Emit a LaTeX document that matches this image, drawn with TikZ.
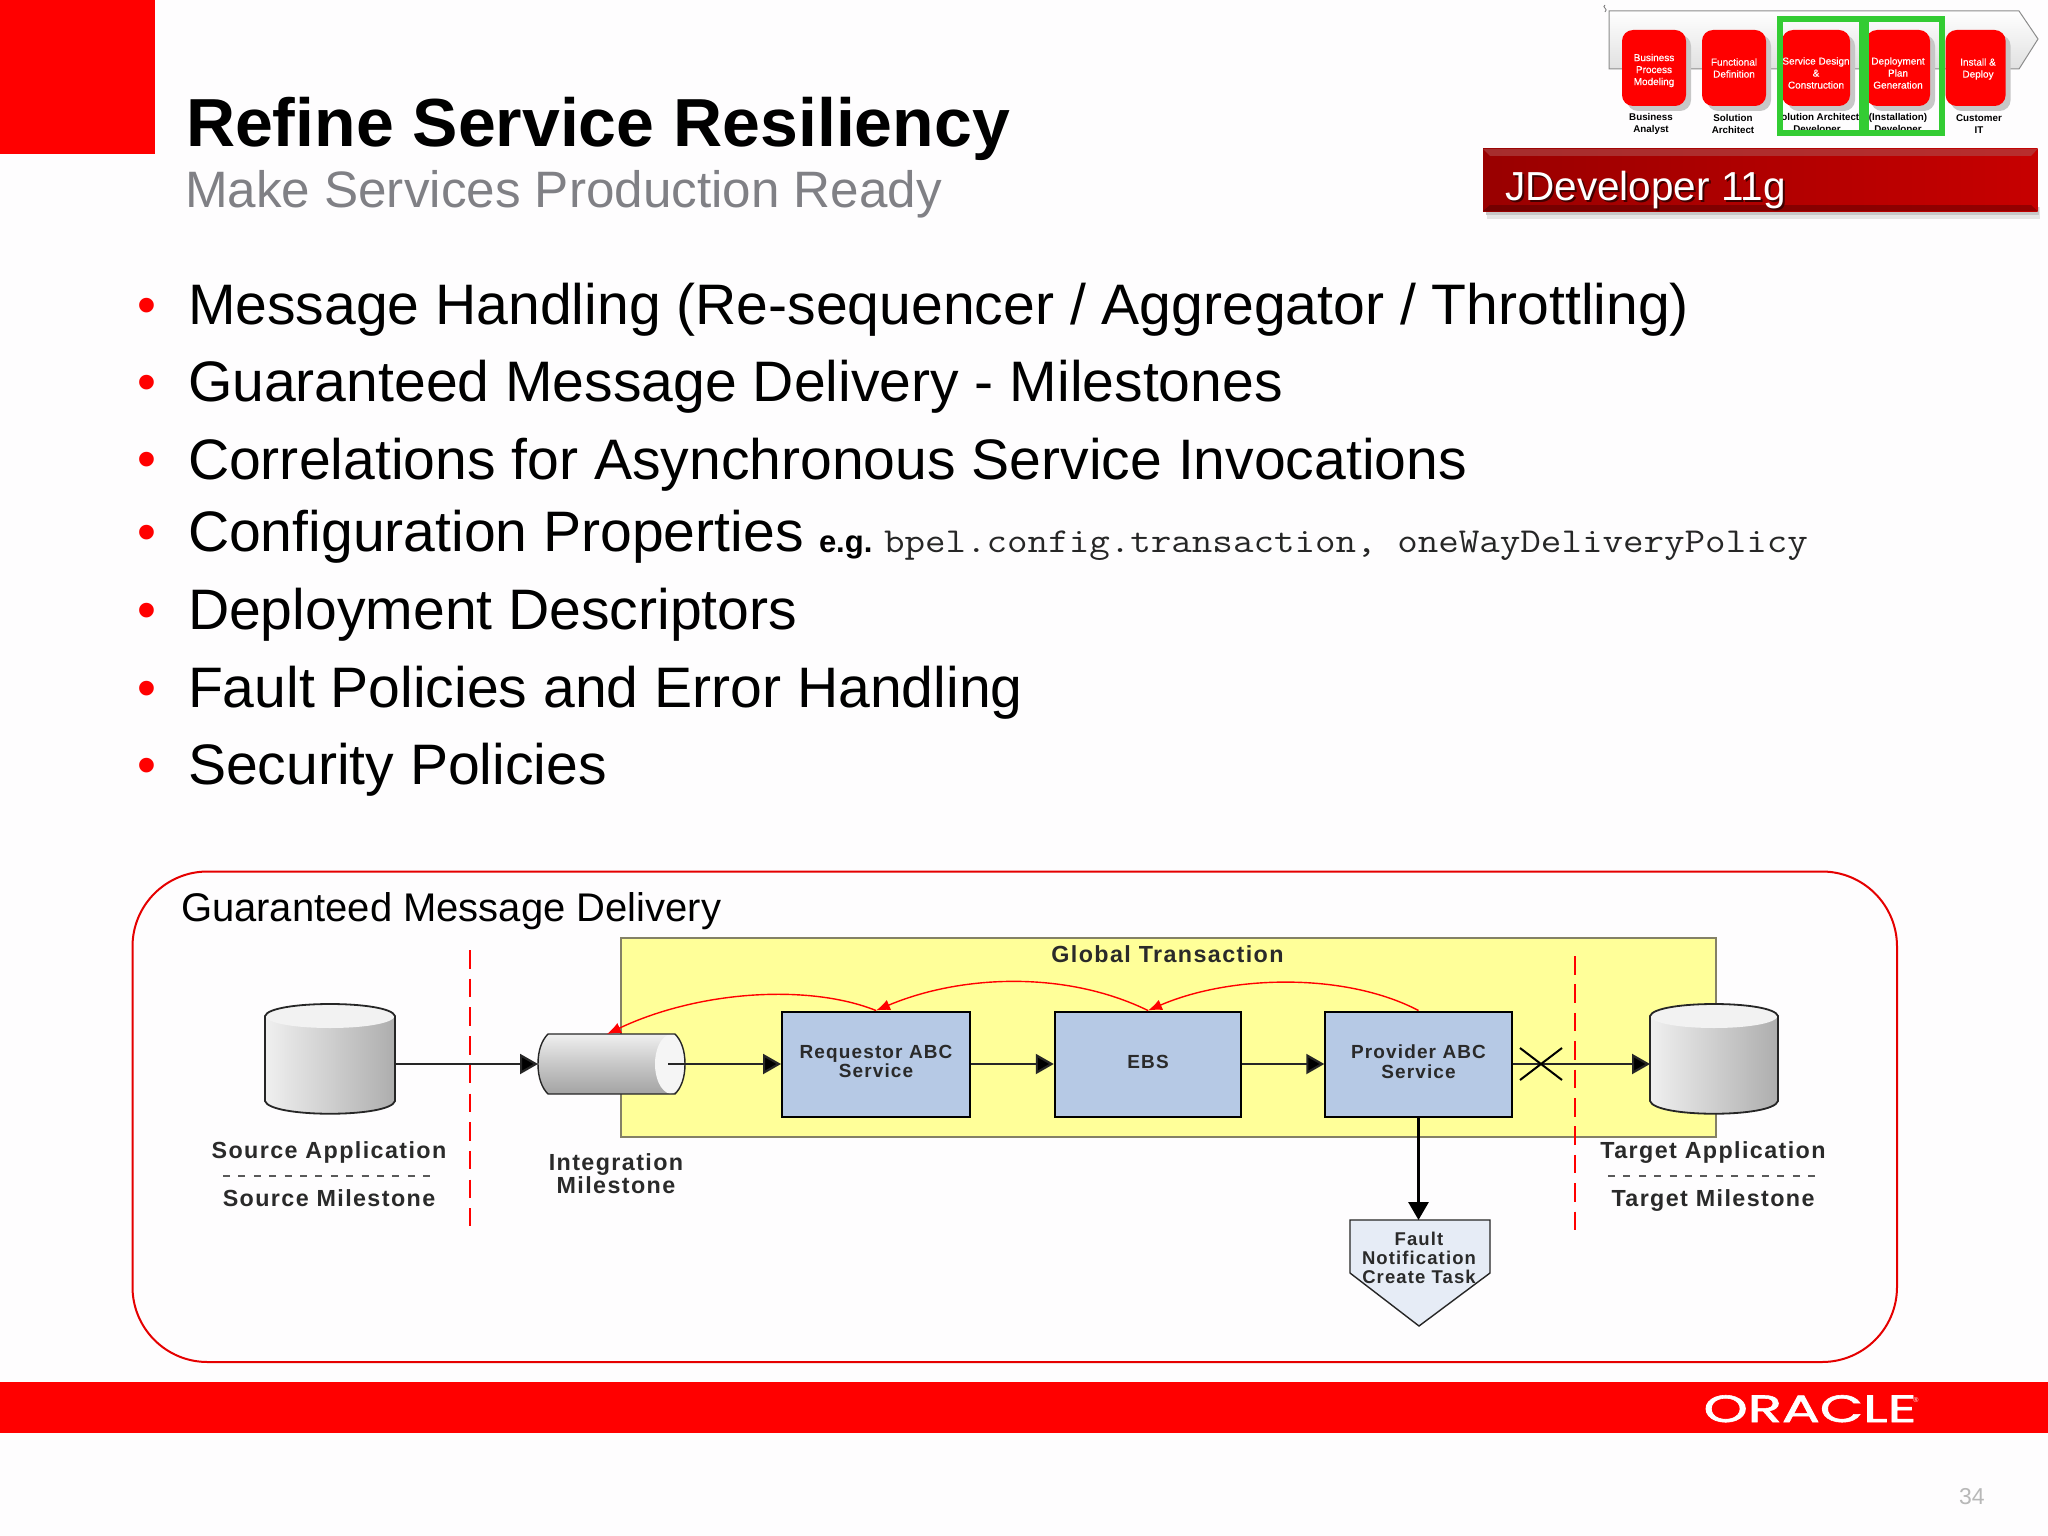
\documentclass[tikz,border=0pt]{standalone}
\usepackage{fontspec}
\setmainfont{Liberation Sans}
\newfontfamily\diagfont[LetterSpace=6]{Liberation Sans}
\newfontfamily\stagefont[FakeBold=0.5]{Liberation Sans}
\newfontfamily\logofont[FakeBold=1.5]{Poppins}
\usetikzlibrary{arrows.meta}
\definecolor{orared}{HTML}{FF0000}
\definecolor{pagebg}{HTML}{FEFDFE}
\definecolor{bandgreen}{HTML}{33CC33}
\definecolor{boxblue}{HTML}{B6C9E5}
\definecolor{txgray}{HTML}{808085}
\definecolor{diagtext}{HTML}{2A2A2A}
\definecolor{txyellow}{HTML}{FFFF99}
\definecolor{faultfill}{HTML}{E6ECF6}
\tikzset{
  x=1pt,y=-1pt,
  txt/.style={inner sep=0pt,outer sep=0pt,anchor=base west},
  bullettext/.style={txt,font=\fontsize{57.1}{60}\selectfont,text=black},
  bulletdot/.style={inner sep=0pt,outer sep=0pt,anchor=base,font=\fontsize{54}{54}\selectfont,text=orared},
  stage/.style={draw=none,fill=orared,rounded corners=11pt,inner sep=0pt,minimum height=76pt},
  stagetext/.style={inner sep=0pt,align=center,text=white,font=\stagefont\fontsize{10}{12}\selectfont},
  role/.style={inner sep=0pt,align=center,text=black,font=\fontsize{9.8}{12}\selectfont\bfseries},
  greenbox/.style={draw=bandgreen,line width=6pt},
  svc/.style={draw=black,line width=2pt,fill=boxblue,minimum height=105pt,inner sep=0pt},
  svctext/.style={inner sep=0pt,align=center,text=diagtext,font=\diagfont\fontsize{19}{19.5}\selectfont\bfseries},
  dlabel/.style={inner sep=0pt,anchor=base,text=diagtext,align=center,font=\diagfont\fontsize{23.3}{25}\selectfont\bfseries},
  flow/.style={draw=black!85,line width=2.2pt,-{Triangle[length=18pt,width=20pt,fill=black]}},
  back/.style={draw=orared,line width=1.4pt,-{Latex[length=14pt,width=11pt,fill=orared]}},
  anchorbox/.style={inner sep=0pt,outer sep=0pt,draw=none,fill=none},
}
\begin{document}
\begin{tikzpicture}
\useasboundingbox (0,0) rectangle (2048,1536);
\fill[pagebg] (0,0) rectangle (2048,1536);
% header
\fill[orared] (0,0) rectangle (155,154);
\node[txt,font=\fontsize{68}{70}\selectfont\bfseries] (title) at (186,146.5) {Refine Service Resiliency};
\node[txt,font=\fontsize{51.2}{54}\selectfont,text=txgray] (subtitle) at (185,207) {Make Services Production Ready};
% bullets
\foreach \yy/\nm in {323/a,400/b,477/c,550/d,628/e,706/f,783/g}{\node[bulletdot] (dot\nm) at (147,\yy) {•};}
\node[bullettext] (b1) at (188,324.5) {Message Handling (Re-sequencer / Aggregator / Throttling)};
\node[bullettext] (b2) at (188,401.5) {Guaranteed Message Delivery - Milestones};
\node[bullettext] (b3) at (188,479) {Correlations for Asynchronous Service Invocations};
\node[bullettext] (b4) at (188,551) {Configuration Properties};
\node[txt,font=\fontsize{31}{34}\selectfont\bfseries] (eg) at (819,552) {e.g.};
\node[txt,xscale=1.139,font=\fontsize{35}{36}\ttfamily,text=black!85] (code) at (884,552) {bpel.config.transaction, oneWayDeliveryPolicy};
\node[bullettext] (b5) at (188,629) {Deployment Descriptors};
\node[bullettext] (b6) at (188,707) {Fault Policies and Error Handling};
\node[bullettext] (b7) at (188,784.5) {Security Policies};
% process strip
\draw[black!55,line width=.8pt] (1605,5) .. controls (1601,7) and (1609,9) .. (1605,12);
\draw[draw=black!45,line width=1pt,top color=white,bottom color=black!12] (1609,11) -- (2019,11) -- (2038,39) -- (2019,69) -- (1609,69) -- cycle;
\foreach \xa/\xb in {1622/1686,1702/1766,1782.5/1850,1866/1930,1945.6/2005.6}{
  \fill[black!22,rounded corners=11pt] (\xa+5,35) rectangle (\xb+5,111);}
\node[stage,minimum width=64pt] (s1) at (1654,68) {};
\node[stage,minimum width=64pt] (s2) at (1734,68) {};
\node[stage,minimum width=68pt] (s3) at (1816,68) {};
\node[stage,minimum width=64pt] (s4) at (1898,68) {};
\node[stage,minimum width=60pt] (s5) at (1975.6,68) {};
\node[stagetext] (s1t) at (1654,70.5) {Business\\Process\\Modeling};
\node[stagetext] (s2t) at (1734,68) {Functional\\Definition};
\node[stagetext] (s3t) at (1816,73) {Service Design\\\&\\Construction};
\node[stagetext] (s4t) at (1898,73) {Deployment\\Plan\\Generation};
\node[stagetext] (s5t) at (1978,69) {Install \&\\Deploy};
\node[role] (r1) at (1651,124) {Business\\Analyst};
\node[role] (r2) at (1733,124) {Solution\\Architect};
\begin{scope}
\clip (1780,100) rectangle (1866,136);
\node[role] (r3) at (1817,124) {Solution Architect\\Developer};
\end{scope}
\node[role] (r4) at (1898,124) {(Installation)\\Developer};
\node[role] (r5) at (1979,124) {Customer\\IT};
\draw[greenbox] (1780,19) rectangle (1862,133);
\draw[greenbox] (1866,19) rectangle (1942,133);
% JDeveloper banner
\fill[black!10] (1487,207) rectangle (2040,219);
\fill[black!22] (1486,207) rectangle (2039,215);
\shade[left color=red!60!black,right color=red!78!black] (1483,149) rectangle (2037.5,211);
\fill[red!55!black!70!white,opacity=.6] (1483,149) -- (2037.5,149) -- (2031,156) -- (1490,156) -- cycle;
\fill[black,opacity=.25] (1483,211) -- (2037.5,211) -- (2031,205) -- (1490,205) -- cycle;
\node[txt,font=\fontsize{40.5}{42}\selectfont,text=black!75!red] (jdevs) at (1507,202) {JDeveloper 11g};
\node[txt,font=\fontsize{40.5}{42}\selectfont,text=white] (jdev) at (1505,200) {JDeveloper 11g};
% panel
\draw[draw=orared!90!black,line width=2pt,rounded corners=75pt] (132.5,871.5) rectangle (1897,1362);
\node[txt,font=\fontsize{40}{43}\selectfont] (gmd) at (181,921.5) {Guaranteed Message Delivery};
% yellow transaction area
\fill[txyellow] (621,938) rectangle (1716,1137);
\draw[draw=black!60!yellow!55!gray,line width=2.4pt] (621,938) rectangle (1716,1137);
\node[dlabel] (global) at (1167.5,962.5) {Global Transaction};
% cut lines
\draw[draw=orared,line width=2.4pt,dash pattern=on 18.5pt off 10.2pt] (470,950) -- (470,1226);
\draw[draw=orared,line width=2.4pt,dash pattern=on 18.5pt off 9.9pt] (1575,956) -- (1575,1230);
% left DB
\shade[left color=black!6,right color=black!32] (265,1016) -- (265,1101) .. controls (270,1118) and (390,1118) .. (395,1101) -- (395,1016) .. controls (390,1000) and (270,1000) .. (265,1016) -- cycle;
\fill[black!5] (265,1016) .. controls (270,1000) and (390,1000) .. (395,1016) .. controls (390,1032) and (270,1032) .. (265,1016) -- cycle;
\draw[line width=1.8pt,black!85] (265,1016) -- (265,1101) .. controls (270,1118) and (390,1118) .. (395,1101) -- (395,1016) .. controls (390,1000) and (270,1000) .. (265,1016) -- cycle;
\node[anchorbox,minimum width=130pt,minimum height=109pt] (srcdb) at (330,1064) {};
% right DB
\shade[left color=black!6,right color=black!32] (1650,1016) -- (1650,1101) .. controls (1655,1118) and (1773,1118) .. (1778,1101) -- (1778,1016) .. controls (1773,1000) and (1655,1000) .. (1650,1016) -- cycle;
\fill[black!5] (1650,1016) .. controls (1655,1000) and (1773,1000) .. (1778,1016) .. controls (1773,1032) and (1655,1032) .. (1650,1016) -- cycle;
\draw[line width=1.8pt,black!85] (1650,1016) -- (1650,1101) .. controls (1655,1118) and (1773,1118) .. (1778,1101) -- (1778,1016) .. controls (1773,1000) and (1655,1000) .. (1650,1016) -- cycle;
\node[anchorbox,minimum width=128pt,minimum height=109pt] (tgtdb) at (1714,1064) {};
% integration milestone cylinder
\shade[top color=black!6,bottom color=black!36,middle color=black!22] (548,1034) -- (675,1034) .. controls (681,1040) and (685,1050) .. (685,1064) .. controls (685,1078) and (681,1088) .. (675,1094) -- (548,1094) .. controls (542,1088) and (538,1078) .. (538,1064) .. controls (538,1050) and (542,1040) .. (548,1034) -- cycle;
\fill[black!4] (670,1034) .. controls (650,1040) and (650,1088) .. (670,1094) .. controls (678,1094) and (685,1080) .. (685,1064) .. controls (685,1048) and (678,1034) .. (670,1034) -- cycle;
\draw[line width=1.4pt,black!85] (548,1034) -- (675,1034) .. controls (681,1040) and (685,1050) .. (685,1064) .. controls (685,1078) and (681,1088) .. (675,1094) -- (548,1094) .. controls (542,1088) and (538,1078) .. (538,1064) .. controls (538,1050) and (542,1040) .. (548,1034) -- cycle;
\node[anchorbox,minimum width=147pt,minimum height=60pt] (intq) at (611.5,1064) {};
\coordinate (intqout) at (668,1064);
\coordinate (intqtop) at (607,1034);
% service boxes
\node[svc,minimum width=188pt] (req) at (876,1064) {};
\node[svc,minimum width=186.5pt] (ebs) at (1148,1064) {};
\node[svc,minimum width=186.5pt] (prov) at (1418.5,1064) {};
\node[svctext] (reqt) at (876,1061.5) {Requestor ABC\\Service};
\node[svctext] (ebst) at (1148,1061.5) {EBS};
\node[svctext] (provt) at (1418.5,1061.5) {Provider ABC\\Service};
% fault
\draw[line width=1.4pt,black!85,fill=faultfill] (1350,1220) -- (1490,1220) -- (1490,1273) -- (1419,1326) -- (1350,1273) -- cycle;
\node[anchorbox,minimum width=140pt,minimum height=106pt] (fault) at (1420,1273) {};
\node[dlabel,font=\diagfont\fontsize{18.5}{19}\selectfont\bfseries] (f1) at (1419,1245) {Fault};
\node[dlabel,font=\diagfont\fontsize{18.5}{19}\selectfont\bfseries] (f2) at (1419,1264) {Notification};
\node[dlabel,font=\diagfont\fontsize{18.5}{19}\selectfont\bfseries] (f3) at (1419,1283) {Create Task};
% connectors
\draw[flow] (srcdb.east) -- (intq.west);
\draw[flow] (intqout) -- (req.west);
\draw[flow] (req.east) -- (ebs.west);
\draw[flow] (ebs.east) -- (prov.west);
\draw[flow] (prov.east) -- (tgtdb.west);
\draw[draw=black,line width=3pt,-{Triangle[length=18pt,width=20pt,fill=black]}] (prov.south) -- (prov.south |- fault.north);
\draw[back] (prov.north) .. controls (1345,972) and (1230,975) .. (ebs.north);
\draw[back] (ebs.north) .. controls (1065,970) and (960,975) .. (req.north);
\draw[back] (req.north) .. controls (810,984) and (700,990) .. (intqtop);
% failure cross
\coordinate (xa) at (1520,1048);\coordinate (xb) at (1562,1080);\coordinate (xc) at (1520,1080);\coordinate (xd) at (1562,1048);
\draw[line width=2pt,black] (xa) -- (xb) (xc) -- (xd);
% labels
\node[dlabel] (sa) at (329,1158.5) {Source Application};
\coordinate (sda) at (223,1176);\coordinate (sdb) at (436,1176);
\draw[line width=1.4pt,black!65,dash pattern=on 7pt off 8.4pt] (sda) -- (sdb);
\node[dlabel] (sm) at (329,1206) {Source Milestone};
\node[dlabel] (im1) at (616,1170) {Integration};
\node[dlabel] (im2) at (616,1193) {Milestone};
\node[dlabel] (ta) at (1713,1158.5) {Target Application};
\coordinate (tda) at (1608,1176);\coordinate (tdb) at (1820,1176);
\draw[line width=1.4pt,black!65,dash pattern=on 7pt off 8.4pt] (tda) -- (tdb);
\node[dlabel] (tm) at (1713,1206) {Target Milestone};
% footer
\fill[orared] (0,1382) rectangle (2048,1433);
\node[inner sep=0pt,anchor=base,text=white,xscale=1.48,font=\logofont\fontsize{38}{38}\selectfont] (oracle) at (1810,1422) {ORACLE};
\node[inner sep=0pt,anchor=base,text=white,font=\fontsize{7}{8}\selectfont] (reg) at (1916,1402) {®};
\node[txt,font=\fontsize{23}{24}\selectfont,text=black!28] (pg) at (1959,1504) {34};
\end{tikzpicture}
\end{document}
